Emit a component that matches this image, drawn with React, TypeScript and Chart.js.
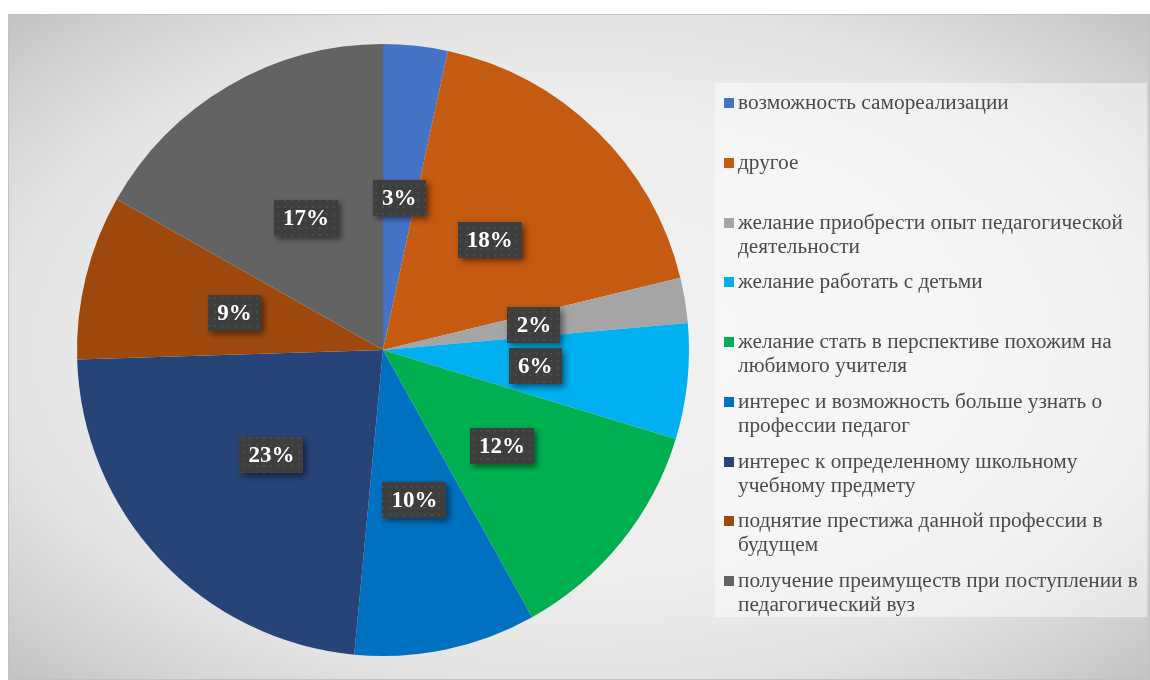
import React, { useEffect, useRef } from "react";
import { Chart, registerables } from "chart.js";

Chart.register(...registerables);

const categories: string[] = [
  "возможность самореализации",
  "другое",
  "желание приобрести опыт педагогической\nдеятельности",
  "желание работать с детьми",
  "желание стать в перспективе похожим на\nлюбимого учителя",
  "интерес и возможность больше узнать о\nпрофессии педагог",
  "интерес к определенному школьному\nучебному предмету",
  "поднятие престижа данной профессии в\nбудущем",
  "получение преимуществ при поступлении в\nпедагогический вуз",
];

const shares: number[] = [3.4, 17.8, 2.4, 6.1, 12.2, 9.6, 23.0, 8.7, 16.8];

const sliceColors: string[] = [
  "#4472C4",
  "#C55A11",
  "#A5A5A5",
  "#00B0F0",
  "#00B050",
  "#0070C0",
  "#264478",
  "#9E480E",
  "#636363",
];

const W = 1142;
const H = 666;

function makePattern(ctx: CanvasRenderingContext2D): CanvasPattern | string {
  const c = document.createElement("canvas");
  c.width = 7;
  c.height = 7;
  const p = c.getContext("2d");
  if (!p) return "#404040";
  p.fillStyle = "#3e3e3e";
  p.fillRect(0, 0, 7, 7);
  p.fillStyle = "#4c4c4c";
  p.fillRect(3, 3, 2, 2);
  return ctx.createPattern(c, "repeat") || "#404040";
}

const labelPlugin = {
  id: "boxLabels",
  afterDatasetsDraw(chart: any) {
    const ctx: CanvasRenderingContext2D = chart.ctx;
    const meta = chart.getDatasetMeta(0);
    const data: number[] = chart.data.datasets[0].data;
    const total = data.reduce((a, b) => a + b, 0);
    const pattern = makePattern(ctx);
    ctx.save();
    ctx.font = 'bold 23px "Liberation Serif", "Times New Roman", serif';
    meta.data.forEach((arc: any, i: number) => {
      const pt = arc.getCenterPoint();
      const text = Math.round((data[i] / total) * 100) + "%";
      const tw = ctx.measureText(text).width;
      const bw = Math.round(tw + 18);
      const bh = 36;
      const x = Math.round(pt.x - bw / 2);
      const y = Math.round(pt.y - bh / 2);
      ctx.save();
      ctx.shadowColor = "rgba(0,0,0,0.5)";
      ctx.shadowBlur = 6;
      ctx.shadowOffsetX = 3;
      ctx.shadowOffsetY = 3;
      ctx.fillStyle = pattern as any;
      ctx.fillRect(x, y, bw, bh);
      ctx.restore();
      ctx.fillStyle = "#ffffff";
      ctx.textAlign = "center";
      ctx.textBaseline = "middle";
      ctx.fillText(text, pt.x, pt.y + 1);
    });
    ctx.restore();
  },
};

export default function App() {
  const ref = useRef<HTMLCanvasElement | null>(null);

  useEffect(() => {
    if (!ref.current) return;
    const chart = new Chart(ref.current, {
      type: "pie",
      data: {
        labels: categories.map((c) => c.replace("\n", " ")),
        datasets: [
          {
            data: shares,
            backgroundColor: sliceColors,
            borderWidth: 0,
          },
        ],
      },
      options: {
        responsive: false,
        animation: false,
        layout: { padding: { left: 69, top: 30, right: 461, bottom: 24 } },
        plugins: {
          legend: { display: false },
          tooltip: { enabled: false },
        },
      },
      plugins: [labelPlugin],
    });
    return () => chart.destroy();
  }, []);

  return (
    <div
      style={{
        position: "absolute",
        left: 8,
        top: 14,
        width: W,
        height: H,
        background:
          "radial-gradient(ellipse farthest-corner at 50% 50%, #f2f2f2 0%, #ededed 50%, #e3e3e3 72%, #d6d6d6 84%, #c3c3c3 100%)",
        boxShadow: "inset 0 0 0 1px #c2c2c2",
        overflow: "hidden",
      }}
    >
      <canvas
        ref={ref}
        width={W}
        height={H}
        style={{ position: "absolute", left: 0, top: 0, width: W, height: H }}
      />
      <div
        style={{
          position: "absolute",
          left: 707,
          top: 69,
          width: 432,
          height: 534,
          background: "rgba(255,255,255,0.45)",
        }}
      >
        {categories.map((c, i) => (
          <div
            key={i}
            style={{
              position: "absolute",
              left: 0,
              top: 7 + i * 59.75,
              width: 432,
            }}
          >
            <div
              style={{
                position: "absolute",
                left: 9,
                top: 8,
                width: 10,
                height: 10,
                background: sliceColors[i],
              }}
            />
            <div
              style={{
                position: "absolute",
                left: 23,
                top: 0,
                whiteSpace: "pre",
                fontFamily: '"Liberation Serif", "Times New Roman", serif',
                fontSize: 21.3,
                lineHeight: "24px",
                color: "#4a4a4a",
              }}
            >
              {c}
            </div>
          </div>
        ))}
      </div>
    </div>
  );
}
